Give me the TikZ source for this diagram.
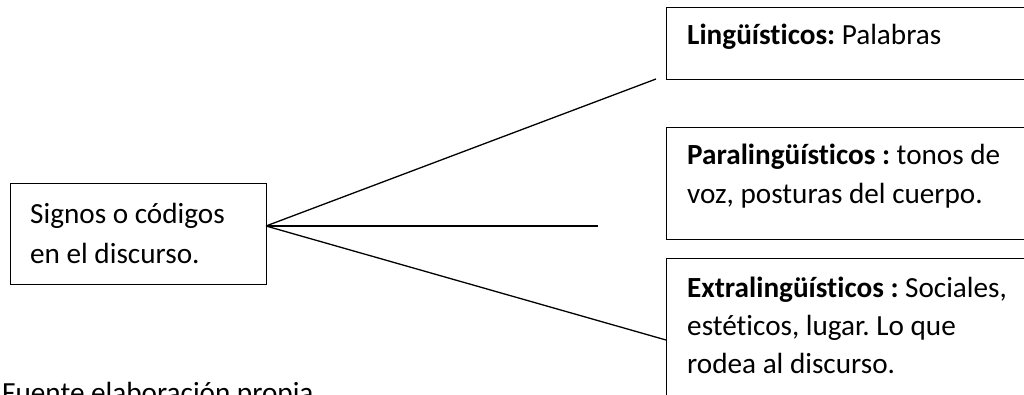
\documentclass[tikz,border=0pt]{standalone}
\usepackage{fontspec}
\setmainfont{Carlito}[RawFeature=-liga]
\frenchspacing
\begin{document}
\begin{tikzpicture}[x=1pt,y=-1pt,
  box/.style={draw=black,line width=1.1pt,inner sep=0pt,anchor=north west},
  txt/.style={anchor=base west,inner sep=0pt,font=\fontsize{29.2}{39}\selectfont\frenchspacing},
  link/.style={draw=black,line width=1.3pt}]
\useasboundingbox (0,0) rectangle (1024,395);
\clip (0,0) rectangle (1024,395);
% left box
\node[box,minimum width=256pt,minimum height=101pt] (signos) at (10,183) {};
\node[txt] (s1) at (30,223) {Signos o códigos};
\node[txt] (s2) at (30,263) {en el discurso.};
% right boxes
\node[box,minimum width=380pt,minimum height=72pt] (ling) at (666,7) {};
\node[txt] (l1) at (687,45) {\textbf{Lingüísticos:} Palabras};
\node[box,minimum width=380pt,minimum height=112pt] (para) at (666,127) {};
\node[txt] (p1) at (687,165) {\textbf{Paralingüísticos :} tonos de};
\node[txt] (p2) at (687,204) {voz, posturas del cuerpo.};
\node[box,minimum width=380pt,minimum height=170pt] (extra) at (666,258) {};
\node[txt] (e1) at (687,297) {\textbf{Extralingüísticos :} Sociales,};
\node[txt] (e2) at (687,335) {estéticos, lugar. Lo que};
\node[txt] (e3) at (687,373) {rodea al discurso.};
% caption
\node[txt] (fuente) at (2,402) {Fuente elaboración propia};
% connectors
\coordinate (o) at (266,226);
\coordinate (ta) at (656,79);
\coordinate (mid) at (598,226);
\coordinate (tc) at (extra.west |- 0,340);
\draw[link] (o) -- (ta);
\draw[link] (o) -- (mid);
\draw[link] (o) -- (tc);
\end{tikzpicture}
\end{document}
